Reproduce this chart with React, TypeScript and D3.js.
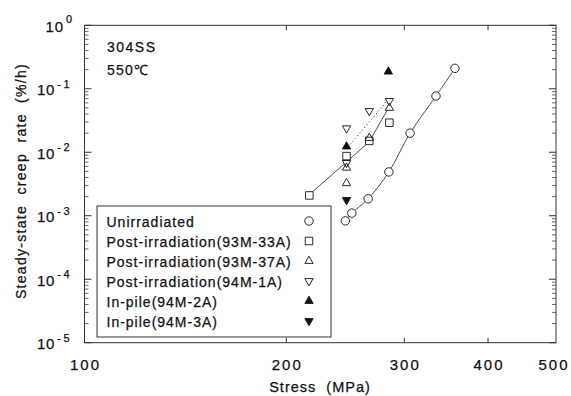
import React from "react";
import * as d3 from "d3";

const W = 571;
const H = 396;
const FONT = "'Liberation Sans', Arial, Helvetica, sans-serif";

const X_DOMAIN = [100, 500];
const Y_DOMAIN = [1e-5, 1];
const X_TICK_LABELS = [100, 200, 300, 400, 500];
const X_INNER_TICKS = [200, 300, 400];
const Y_EXPONENTS = [0, -1, -2, -3, -4, -5];

// Series (stress MPa, creep rate %/h)
const unirradiatedStress = [245, 250.5, 265, 284.5, 306, 334.5, 357];
const unirradiatedRate = [8.3e-4, 1.1e-3, 1.85e-3, 4.9e-3, 0.02, 0.077, 0.21];

const post33AStress = [216.5, 246, 266, 285];
const post33ARate = [2.09e-3, 8.7e-3, 0.0151, 0.0292];

const post37AStress = [246, 246, 266, 285];
const post37ARate = [3.25e-3, 5.7e-3, 0.0168, 0.05];

const post1AStress = [246, 246, 266, 285];
const post1ARate = [0.0239, 6.8e-3, 0.0447, 0.0643];

const inPile2AStress = [246, 284];
const inPile2ARate = [0.0123, 0.186];

const inPile3AStress = [246];
const inPile3ARate = [1.77e-3];

// Fit lines
const solidFitStress = [217, 265.8, 284.7];
const solidFitRate = [2.2e-3, 0.0145, 0.0517];
const dottedFitStress = [247.2, 283.6];
const dottedFitRate = [0.0121, 0.0666];

const LEGEND_LABELS = [
  "Unirradiated",
  "Post-irradiation(93M-33A)",
  "Post-irradiation(93M-37A)",
  "Post-irradiation(94M-1A)",
  "In-pile(94M-2A)",
  "In-pile(94M-3A)",
];
const LEGEND_SYMBOLS = ["circle", "square", "up", "down", "upFilled", "downFilled"];

const zip = (a: number[], b: number[]) => a.map((v, i) => [v, b[i]] as [number, number]);

function symbolPath(kind: string): string {
  const gen = d3.symbol();
  if (kind === "circle") return gen.type(d3.symbolCircle).size(56)()!;
  if (kind === "square") return gen.type(d3.symbolSquare).size(56)()!;
  return gen.type(d3.symbolTriangle).size(30)()!;
}

function Marker({ kind, cx, cy, layer }: { kind: string; cx: number; cy: number; layer: "knock" | "draw" }) {
  const d = symbolPath(kind);
  const rot = kind.startsWith("down") ? 180 : 0;
  const filled = kind.endsWith("Filled");
  const transform = `translate(${cx},${cy}) rotate(${rot})`;
  if (layer === "knock") return <path d={d} transform={transform} fill="#fff" stroke="none" />;
  return (
    <path
      d={d}
      transform={transform}
      fill={filled ? "#111" : "none"}
      stroke="#111"
      strokeWidth={0.9}
    />
  );
}

const TXT = { fill: "#111", stroke: "#111", strokeWidth: 0.25 };

export default function App() {
  const left = 84.5;
  const right = 556;
  const top = 25.3;
  const bottom = 342.7;
  const x = d3.scaleLog().domain(X_DOMAIN).range([84.5, 553]);
  const y = d3.scaleLog().domain(Y_DOMAIN).range([bottom, top]);

  const series: { kind: string; pts: [number, number][] }[] = [
    { kind: "circle", pts: zip(unirradiatedStress, unirradiatedRate) },
    { kind: "square", pts: zip(post33AStress, post33ARate) },
    { kind: "up", pts: zip(post37AStress, post37ARate) },
    { kind: "down", pts: zip(post1AStress, post1ARate) },
    { kind: "upFilled", pts: zip(inPile2AStress, inPile2ARate) },
    { kind: "downFilled", pts: zip(inPile3AStress, inPile3ARate) },
  ];

  const line = d3
    .line<[number, number]>()
    .x((d) => x(d[0]))
    .y((d) => y(d[1]));
  const curve = d3
    .line<[number, number]>()
    .x((d) => x(d[0]))
    .y((d) => y(d[1]))
    .curve(d3.curveCatmullRom);

  const minorTicks: number[] = [];
  for (let e = -5; e < 0; e++) for (let k = 2; k <= 9; k++) minorTicks.push(k * Math.pow(10, e));

  const legendX = 97;
  const legendY = 206;
  const legendW = 234;
  const legendH = 131;

  return (
    <svg width={W} height={H} style={{ position: "absolute", left: 0, top: 0, background: "#fff" }} fontFamily={FONT}>
      <rect x={0} y={0} width={W} height={H} fill="#fff" />
      {/* frame */}
      <rect x={left} y={top} width={right - left} height={bottom - top} fill="none" stroke="#333" strokeWidth={1} />
      {/* y ticks */}
      {Y_EXPONENTS.map((e) => {
        const yy = y(Math.pow(10, e));
        return (
          <g key={"ym" + e}>
            <line x1={left} x2={left + 7} y1={yy} y2={yy} stroke="#333" strokeWidth={1} />
            <line x1={right} x2={right - 7} y1={yy} y2={yy} stroke="#333" strokeWidth={1} />
          </g>
        );
      })}
      {minorTicks.map((v, i) => {
        const yy = y(v);
        return (
          <g key={"yn" + i}>
            <line x1={left} x2={left + 4} y1={yy} y2={yy} stroke="#444" strokeWidth={0.8} />
            <line x1={right} x2={right - 4} y1={yy} y2={yy} stroke="#444" strokeWidth={0.8} />
          </g>
        );
      })}
      {/* x ticks */}
      {X_INNER_TICKS.map((v) => (
        <g key={"xt" + v}>
          <line x1={x(v)} x2={x(v)} y1={bottom} y2={bottom - 5} stroke="#333" strokeWidth={1} />
          <line x1={x(v)} x2={x(v)} y1={top} y2={top + 5} stroke="#333" strokeWidth={1} />
        </g>
      ))}
      {/* x tick labels */}
      {X_TICK_LABELS.map((v) => (
        <text key={"xl" + v} x={x(v) + 1} y={370} textAnchor="middle" fontSize={15} letterSpacing={2} {...TXT}>
          {v}
        </text>
      ))}
      {/* y tick labels */}
      {Y_EXPONENTS.map((e) => (
        <text key={"yl" + e} x={72} y={y(Math.pow(10, e)) + 6.3} textAnchor="end" fontSize={15} letterSpacing={0.8} {...TXT}>
          <tspan>10</tspan>
          <tspan dx={2} dy={e === 0 ? -8.5 : -7.5} fontSize={11} letterSpacing={e === 0 ? 0 : 2.5}>
            {e === 0 ? "0" : "-" + String(-e)}
          </tspan>
        </text>
      ))}
      {/* axis titles */}
      <text x={320} y={392} textAnchor="middle" fontSize={14.5} letterSpacing={1} style={{ whiteSpace: "pre" }} {...TXT}>
        {"Stress  (MPa)"}
      </text>
      <text
        transform={`translate(26,${181}) rotate(-90)`}
        textAnchor="middle"
        fontSize={14}
        letterSpacing={1.3}
        style={{ whiteSpace: "pre" }}
        {...TXT}
      >
        {"Steady-state  creep  rate  (%/h)"}
      </text>
      {/* annotation */}
      <text x={107} y={51.7} fontSize={14} letterSpacing={1.5} {...TXT}>304SS</text>
      <text x={107} y={75} fontSize={14} letterSpacing={1.2} {...TXT}>550℃</text>

      {/* fit lines */}
      <path d={curve(zip(unirradiatedStress, unirradiatedRate))!} fill="none" stroke="#222" strokeWidth={0.8} />
      <path d={line(zip(solidFitStress, solidFitRate))!} fill="none" stroke="#222" strokeWidth={0.8} />
      <path d={line(zip(dottedFitStress, dottedFitRate))!} fill="none" stroke="#222" strokeWidth={0.9} strokeDasharray="1.2,2.4" />

      {/* markers */}
      {series.map((s) =>
        s.pts.map((p, i) => <Marker key={s.kind + "k" + i} kind={s.kind} cx={x(p[0])} cy={y(p[1])} layer="knock" />)
      )}
      {series.map((s) =>
        s.pts.map((p, i) => <Marker key={s.kind + "d" + i} kind={s.kind} cx={x(p[0])} cy={y(p[1])} layer="draw" />)
      )}

      {/* legend */}
      <rect x={legendX} y={legendY} width={legendW} height={legendH} fill="#fff" stroke="#333" strokeWidth={1} />
      {LEGEND_LABELS.map((lab, i) => (
        <g key={"lg" + i}>
          <text x={106.5} y={226.8 + i * 20} fontSize={14} letterSpacing={1} {...TXT}>
            {lab}
          </text>
          <Marker kind={LEGEND_SYMBOLS[i]} cx={309} cy={221 + i * 20} layer="draw" />
        </g>
      ))}
    </svg>
  );
}
